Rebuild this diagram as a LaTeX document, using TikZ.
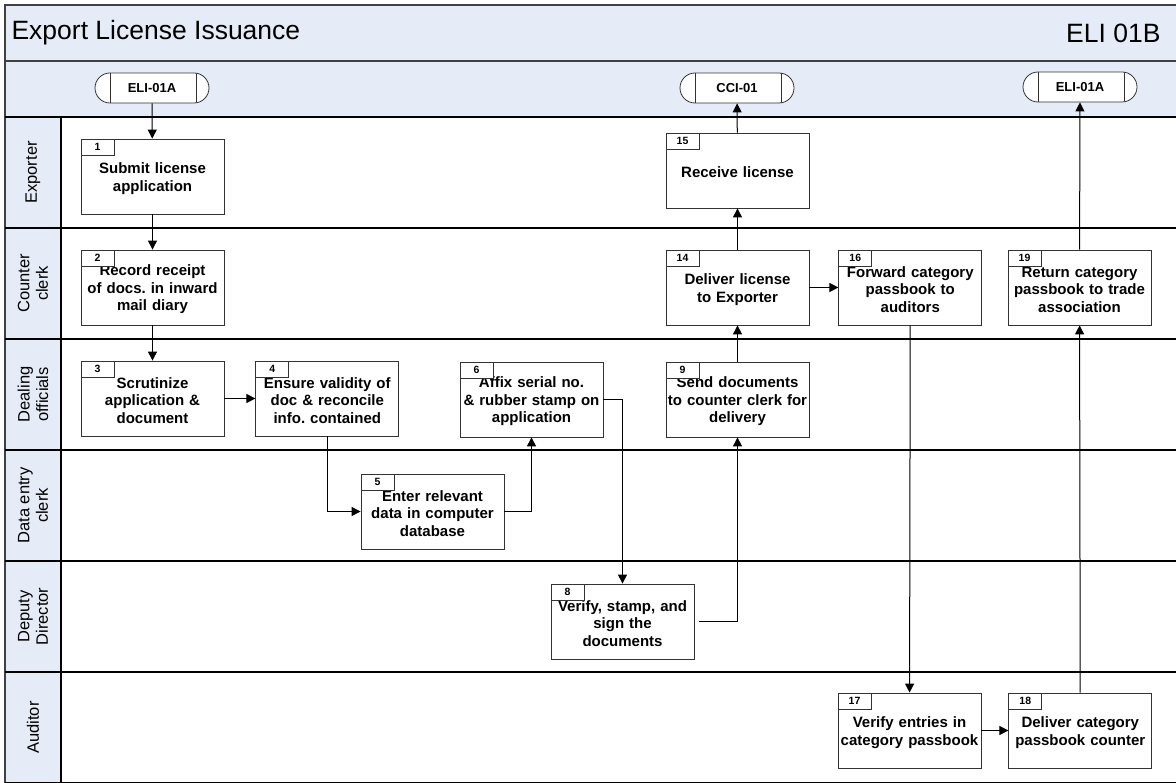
\documentclass[tikz,border=0pt]{standalone}
\usepackage{fontspec}
\setmainfont{Liberation Sans}
\usetikzlibrary{arrows.meta, positioning}
\definecolor{bandblue}{RGB}{230,236,247}
\frenchspacing

\begin{document}
\begin{tikzpicture}[
    x=1pt, y=-1pt,
    task/.style={rectangle, draw=black!80, line width=0.8pt, fill=white, minimum width=143pt, minimum height=75pt, text width=141pt, align=center, inner sep=0pt,
        font=\fontsize{15}{17.5}\selectfont\bfseries, execute at begin node={\rule{0pt}{15pt}}},
    tab/.style={rectangle, draw=black!80, line width=0.8pt, fill=white, minimum width=33pt, minimum height=16pt, inner sep=0pt, anchor=north west, font=\fontsize{10.5}{10.5}\selectfont\bfseries},
    term/.style={rectangle, rounded corners=15pt, draw=black!80, line width=0.8pt, fill=white, minimum width=114pt, minimum height=30pt, inner sep=0pt, font=\fontsize{13}{13}\selectfont\bfseries,
        path picture={\draw[black!80, line width=0.8pt] ([xshift=15pt]path picture bounding box.north west) -- ([xshift=15pt]path picture bounding box.south west);
                      \draw[black!80, line width=0.8pt] ([xshift=-13pt]path picture bounding box.north east) -- ([xshift=-13pt]path picture bounding box.south east);}},
    lane/.style={rotate=90, align=center, font=\fontsize{16.5}{18.5}\selectfont},
    sep/.style={draw=black, line width=1.1pt},
    arrow/.style={draw=black, line width=1pt, -{Triangle[length=9pt,width=9pt]}}
]
\clip (0,0) rectangle (1176,783);

% bands and frame
\fill[bandblue] (5,5) rectangle (1180,117);
\fill[bandblue] (5,117) rectangle (61,790);
\draw[sep, line width=1.5pt, draw=black!75] (5,5) rectangle (1180,790);
\draw[sep, draw=black!75] (5,61) -- (1180,61);
\draw[sep] (5,117) -- (1180,117);
\draw[sep] (61,117) -- (61,790);

\node[anchor=west, font=\fontsize{26.5}{26.5}\selectfont] (title) at (8,33) {Export License Issuance};
\node[anchor=east, font=\fontsize{26.5}{26.5}\selectfont] (code) at (1164,33) {ELI 01B};

% lanes
\foreach \lbl [count=\i from 0] in {Exporter, {Counter\\clerk}, {Dealing\\officials}, {Data entry\\clerk}, {Deputy\\Director}, Auditor}{
    \node[lane] (lane\i) at (33, 172.5+111*\i) {\lbl};
    \draw[sep] (5, 228+111*\i) -- (1180, 228+111*\i);
}

% connectors to other pages
\node[term] (inA) at (152,88) {ELI-01A};
\node[term] (outC) at (737,88) {CCI-01};
\node[term] (outA) at (1080,87) {ELI-01A};

% tasks
\node[task] (b1) at (152.5,176.5) {Submit license\\application};
\node[task] (b2) at (152.5,287.5) {Record receipt\\of docs. in inward\\mail diary};
\node[task] (b3) at (152.5,398.5) {Scrutinize\\application \&\\document};
\node[task, right=31pt of b3] (b4) {Ensure validity of\\doc \& reconcile\\info. contained};
\node[task] (b5) at (432.5,511.5) {Enter relevant\\data in computer\\database};
\node[task] (b6) at (531.5,399.5) {Affix serial no.\\\& rubber stamp on\\application};
\node[task] (b8) at (622.5,621.5) {Verify, stamp, and\\sign the\\documents};
\node[task] (b9) at (737.5,399.5) {Send documents\\to counter clerk for\\delivery};
\node[task] (b14) at (737.5,287.5) {Deliver license\\to Exporter};
\node[task] (b15) at (737.5,170.5) {Receive license};
\node[task, right=29pt of b14] (b16) {Forward category\\passbook to\\auditors};
\node[task] (b19) at (1079.5,287.5) {Return category\\passbook to trade\\association};
\node[task] (b17) at (909.5,730.5) {Verify entries in\\category passbook};
\node[task, right=27pt of b17] (b18) {Deliver category\\passbook counter};

% number tabs
\foreach \b/\n in {b1/1, b2/2, b3/3, b4/4, b5/5, b6/6, b8/8, b9/9, b14/14, b15/15, b16/16, b19/19, b17/17, b18/18}
    \node[tab] (\b tab) at (\b.north west) {\n};

% flow
\draw[arrow] (inA) -- (b1);
\draw[arrow] (b1) -- (b2);
\draw[arrow] (b2) -- (b3);
\draw[arrow] (b3) -- (b4);
\draw[arrow] (b4.south) |- (b5.west);
\draw[arrow] (b5.east) -| (b6.south);
\draw[arrow] (b6.east) -| (b8.north);
\draw[arrow] ([xshift=5pt]b8.east) -| (b9.south);
\draw[arrow] (b9) -- (b14);
\draw[arrow] (b14) -- (b15);
\draw[arrow] (b15) -- (outC);
\draw[arrow] (b14) -- (b16);
\draw[arrow] (b16) -- (b17);
\draw[arrow] (b17) -- (b18);
\draw[arrow] (b18) -- (b19);
\draw[arrow] (b19) -- (outA);

\end{tikzpicture}
\end{document}
